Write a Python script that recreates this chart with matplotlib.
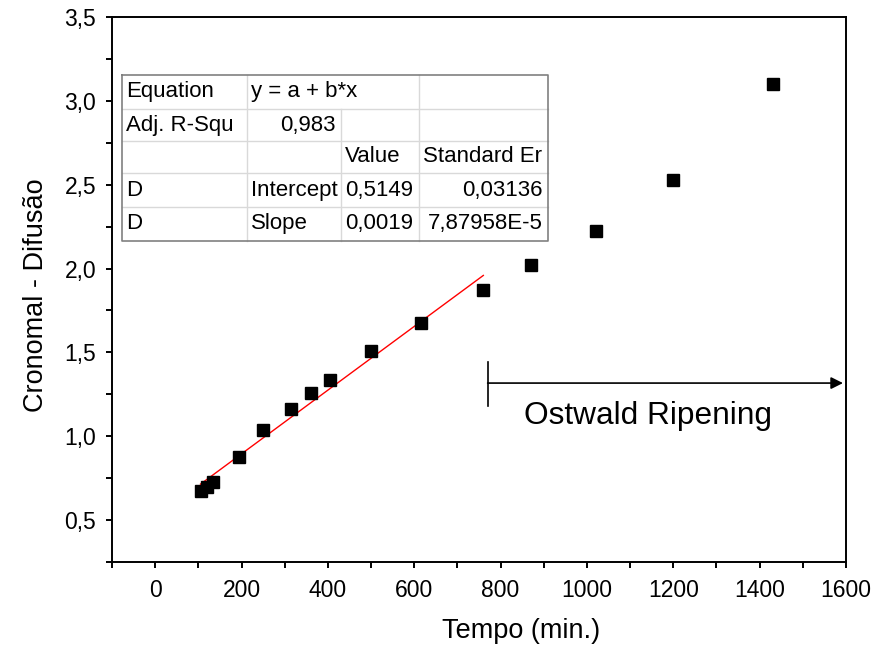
import matplotlib
matplotlib.use("Agg")
import matplotlib.pyplot as plt
from matplotlib.lines import Line2D
from matplotlib.ticker import MultipleLocator, FuncFormatter

plt.rcParams['font.family'] = ['Liberation Sans', 'DejaVu Sans']

# Measured data
tempo = [105, 120, 135, 195, 250, 315, 360, 405, 500, 615, 760, 870, 1020, 1200, 1430]
difusao = [0.675, 0.699, 0.729, 0.874, 1.037, 1.161, 1.256, 1.335, 1.510, 1.677,
           1.872, 2.023, 2.226, 2.526, 3.100]

# Linear fit results (y = a + b*x) over the diffusion regime
intercept = 0.5149
slope = 0.0019
fit_range = [105, 760]

# Fit summary table contents
table_rows = [
    ["Equation", "y = a + b*x", "", ""],
    ["Adj. R-Squ", "0,983", "", ""],
    ["", "", "Value", "Standard Er"],
    ["D", "Intercept", "0,5149", "0,03136"],
    ["D", "Slope", "0,0019", "7,87958E-5"],
]

W, H = 876, 650
fig = plt.figure(figsize=(W / 100, H / 100), dpi=100)
ax = fig.add_axes([112 / W, 1 - 562 / H, (846 - 112) / W, (562 - 17) / H])

ax.plot(tempo, difusao, linestyle='none', marker='s', markersize=8.4,
        color='black', zorder=3)
fit_y = [intercept + slope * x for x in fit_range]
ax.plot(fit_range, fit_y, color='red', linewidth=1.0, zorder=2)

ax.set_xlim(-100, 1600)
ax.set_ylim(0.25, 3.5)
ax.xaxis.set_major_locator(MultipleLocator(200))
ax.xaxis.set_minor_locator(MultipleLocator(100))
ax.yaxis.set_major_locator(MultipleLocator(0.5))
ax.yaxis.set_minor_locator(MultipleLocator(0.25))
ax.yaxis.set_major_formatter(FuncFormatter(lambda v, p: f"{v:.1f}".replace('.', ',')))
ax.xaxis.set_major_formatter(FuncFormatter(lambda v, p: f"{v:.0f}"))

for s in ax.spines.values():
    s.set_linewidth(1.4)
ax.tick_params(which='both', direction='out', width=1.4, top=False, right=False,
               labelsize=16.5)
ax.tick_params(axis='x', which='major', length=4.5, pad=8)
ax.tick_params(axis='x', which='minor', length=4.5)
ax.tick_params(axis='y', which='major', length=4.5, pad=7)
ax.tick_params(axis='y', which='minor', length=4.5)

ax.set_xlabel("Tempo (min.)", fontsize=19.5)
ax.xaxis.set_label_coords((521 - 112) / 734, (562 - 618) / 545)
ax.set_ylabel("Cronomal - Difusão", fontsize=19.5)
ax.yaxis.set_label_coords((49 - 112) / 734, (562 - 295) / 545)

# Ostwald ripening region marker
ax.plot([770, 770], [1.18, 1.443], color='black', linewidth=1.2)
ax.annotate("", xy=(1593, 1.317), xytext=(770, 1.317),
            arrowprops=dict(arrowstyle='-|>', color='black', lw=1.2,
                            mutation_scale=18, shrinkA=0, shrinkB=0))
ax.text(1141, 1.12, "Ostwald Ripening", fontsize=22.8, ha='center', va='center')

# Fit summary table drawn in figure pixel space
def fx(x):
    return x / W

def fy(y):
    return 1 - y / H

col_edges = [122, 247, 341, 419, 548]
row_edges = [75, 109, 141, 173, 207, 241]
grid_c = '#d9d9d9'
border_c = '#808080'

# horizontal inner lines
for y in row_edges[1:-1]:
    fig.add_artist(Line2D([fx(col_edges[0]), fx(col_edges[-1])], [fy(y), fy(y)],
                          color=grid_c, linewidth=1.0, zorder=5))
# vertical inner lines
fig.add_artist(Line2D([fx(col_edges[1])] * 2, [fy(row_edges[0]), fy(row_edges[-1])],
                      color=grid_c, linewidth=1.0, zorder=5))
fig.add_artist(Line2D([fx(col_edges[2])] * 2, [fy(row_edges[1]), fy(row_edges[-1])],
                      color=grid_c, linewidth=1.0, zorder=5))
fig.add_artist(Line2D([fx(col_edges[3])] * 2, [fy(row_edges[0]), fy(row_edges[-1])],
                      color=grid_c, linewidth=1.0, zorder=5))
# outer border
bx = [col_edges[0], col_edges[-1], col_edges[-1], col_edges[0], col_edges[0]]
by = [row_edges[0], row_edges[0], row_edges[-1], row_edges[-1], row_edges[0]]
fig.add_artist(Line2D([fx(v) for v in bx], [fy(v) for v in by],
                      color=border_c, linewidth=1.2, zorder=6))

right_aligned = {(1, 1), (3, 3), (4, 3)}
for r, row in enumerate(table_rows):
    yc = (row_edges[r] + row_edges[r + 1]) / 2
    for c, txt in enumerate(row):
        if not txt:
            continue
        if (r, c) in right_aligned:
            fig.text(fx(col_edges[c + 1] - 5), fy(yc), txt, fontsize=16,
                     ha='right', va='center', zorder=7)
        else:
            fig.text(fx(col_edges[c] + 4), fy(yc), txt, fontsize=16,
                     ha='left', va='center', zorder=7)

fig.savefig("out.png", dpi=100)
